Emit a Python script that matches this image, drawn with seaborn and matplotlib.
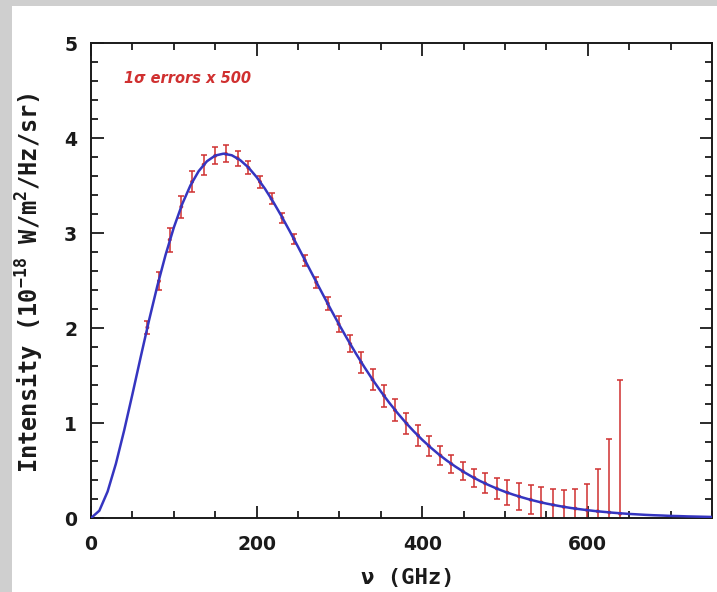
import numpy as np
import pandas as pd
import matplotlib
matplotlib.use("Agg")
import matplotlib.pyplot as plt
import seaborn as sns
from matplotlib.ticker import MultipleLocator
from matplotlib.patches import Rectangle

# blackbody curve, every 10 GHz
curve_freq = list(range(0, 760, 10))
curve_int = [0.000, 0.077, 0.279, 0.572, 0.923, 1.305, 1.697, 2.081, 2.442, 2.771,
             3.060, 3.304, 3.502, 3.653, 3.757, 3.817, 3.837, 3.820, 3.770, 3.692,
             3.590, 3.468, 3.330, 3.179, 3.020, 2.856, 2.688, 2.520, 2.354, 2.190,
             2.031, 1.878, 1.731, 1.591, 1.458, 1.333, 1.216, 1.107, 1.005, 0.911,
             0.824, 0.744, 0.670, 0.603, 0.542, 0.486, 0.435, 0.389, 0.348, 0.310,
             0.276, 0.246, 0.219, 0.194, 0.172, 0.152, 0.135, 0.119, 0.105, 0.093,
             0.082, 0.072, 0.064, 0.056, 0.049, 0.043, 0.038, 0.033, 0.029, 0.026,
             0.022, 0.020, 0.017, 0.015, 0.013, 0.011]

# measured points and 1 sigma errors (already x500)
data_freq = [68, 82, 95, 109, 122, 136, 150, 163, 177, 190, 204, 218, 231, 245, 258,
             272, 286, 299, 313, 326, 340, 354, 367, 381, 395, 408, 422, 435, 449, 463,
             476, 490, 503, 517, 531, 544, 558, 571, 585, 599, 612, 626, 639]
data_int = [2.007, 2.495, 2.930, 3.278, 3.541, 3.721, 3.815, 3.835, 3.789, 3.688,
            3.541, 3.363, 3.161, 2.939, 2.714, 2.482, 2.259, 2.043, 1.833, 1.638,
            1.458, 1.288, 1.136, 0.995, 0.870, 0.759, 0.658, 0.570, 0.492, 0.423,
            0.364, 0.311, 0.266, 0.226, 0.193, 0.164, 0.138, 0.117, 0.099, 0.084,
            0.071, 0.058, 0.045]
data_err = [0.070, 0.095, 0.125, 0.115, 0.110, 0.105, 0.090, 0.090, 0.080, 0.070,
            0.065, 0.060, 0.055, 0.050, 0.055, 0.060, 0.070, 0.080, 0.090, 0.110,
            0.110, 0.115, 0.115, 0.115, 0.110, 0.105, 0.100, 0.095, 0.095, 0.095,
            0.105, 0.115, 0.130, 0.140, 0.150, 0.160, 0.165, 0.175, 0.205, 0.275,
            0.440, 0.775, 1.410]

curve = pd.DataFrame({"freq": curve_freq, "intensity": curve_int})
data = pd.DataFrame({"freq": data_freq, "intensity": data_int, "err": data_err})

sns.set_style("ticks")
plt.rcParams["mathtext.fontset"] = "custom"
plt.rcParams["mathtext.rm"] = "DejaVu Sans Mono:bold"
plt.rcParams["mathtext.default"] = "rm"

fig = plt.figure(figsize=(7.17, 5.92), dpi=100, facecolor="#cfcfcf")
fig.patches.append(Rectangle((12 / 717, 0), 1, 1 - 6 / 592, transform=fig.transFigure,
                             facecolor="white", edgecolor="none", zorder=-5))
ax = fig.add_axes([0.127, 0.125, 0.866, 0.802])

red = "#d03030"
ax.errorbar(data["freq"], data["intensity"], yerr=data["err"], fmt="none",
            ecolor=red, elinewidth=1.1, capsize=2.5, capthick=1.1, zorder=2)
sns.scatterplot(data=data, x="freq", y="intensity", color=red, s=8,
                edgecolor="none", ax=ax, zorder=3)
sns.lineplot(data=curve, x="freq", y="intensity", color="#3535c0", linewidth=1.8,
             ax=ax, zorder=4)

ax.set_xlim(0, 750)
ax.set_ylim(0, 5)
ax.xaxis.set_major_locator(MultipleLocator(200))
ax.xaxis.set_minor_locator(MultipleLocator(50))
ax.yaxis.set_major_locator(MultipleLocator(1))
ax.yaxis.set_minor_locator(MultipleLocator(0.2))
ax.tick_params(which="both", direction="in", top=True, right=True, width=1.3,
               colors="#1a1a1a", labelsize=13.5)
ax.tick_params(axis="x", which="major", length=9, pad=12)
ax.tick_params(axis="y", which="major", length=9, pad=10)
ax.tick_params(which="minor", length=5)
for lab in ax.get_xticklabels() + ax.get_yticklabels():
    lab.set_fontweight("bold")
for sp in ax.spines.values():
    sp.set_linewidth(1.4)
    sp.set_color("#1a1a1a")

mono = "DejaVu Sans Mono"
ax.set_xlabel("ν (GHz)", fontsize=16, fontweight="bold", family=mono,
              color="#1a1a1a")
ax.set_ylabel(r"Intensity (10$^{-18}$ W/m$^{2}$/Hz/sr)", fontsize=17,
              fontweight="bold", family=mono, color="#1a1a1a")
ax.xaxis.set_label_coords(0.51, -0.105)
ax.yaxis.set_label_coords(-0.072, 0.495)
ax.text(40, 4.63, "1σ errors x 500", color=red, fontsize=10.5,
        fontweight="bold", fontstyle="italic", va="center")

fig.savefig("out.png", dpi=100)
